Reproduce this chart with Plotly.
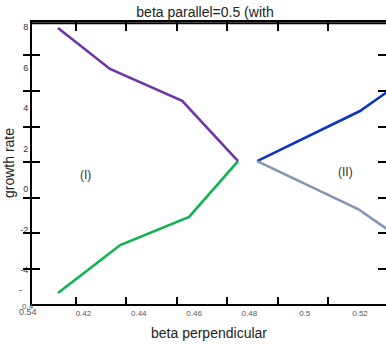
import plotly.graph_objects as go

# data
purple_x = [0.4108, 0.4296, 0.4557, 0.4759]
purple_y = [7.95, 5.93, 4.35, 1.38]
green_x = [0.4108, 0.4333, 0.4582, 0.4759]
green_y = [-5.14, -2.77, -1.38, 1.38]
blue_x = [0.4828, 0.5200, 0.5300]
blue_y = [1.38, 3.85, 4.81]
gray_x = [0.4828, 0.5193, 0.5300]
gray_y = [1.38, -0.99, -2.00]

x_label_vals = [0.42, 0.44, 0.46, 0.48, 0.50, 0.52]
x_label_text = ["0.42", "0.44", "0.46", "0.48", "0.5", "0.52"]
y_label_vals = [8, 6, 4, 2, 0, -2, -4]
y_label_text = ["8", "6", "4", "2", "0", "-2", "-4"]
x_tick_vals = [0.42, 0.44, 0.46, 0.48, 0.50, 0.52]
y_tick_vals = [6, 4, 2, 0, -2, -4, -6]

W, H = 386, 345
L, R, T, B = 32, 0, 22, 41

fig = go.Figure()
def line(x, y, c):
    fig.add_trace(go.Scatter(x=x, y=y, mode="lines", line=dict(color=c, width=2.6),
                             showlegend=False, hoverinfo="skip", cliponaxis=True))
line(purple_x, purple_y, "#6f35a6")
line(green_x, green_y, "#0fb351")
line(blue_x, blue_y, "#0a34c8")
line(gray_x, gray_y, "#8497b2")
# traces (outside view) that hold the tick-only axes
fig.add_trace(go.Scatter(x=[0.0], y=[100.0], xaxis="x2", yaxis="y2", mode="markers",
                         showlegend=False, hoverinfo="skip", marker=dict(opacity=0)))
fig.add_trace(go.Scatter(x=[0.0], y=[100.0], xaxis="x3", yaxis="y2", mode="markers",
                         showlegend=False, hoverinfo="skip", marker=dict(opacity=0)))

font = "Liberation Sans, Arial, sans-serif"
fig.update_layout(
    width=W, height=H, margin=dict(l=L, r=R, t=T, b=B),
    paper_bgcolor="white", plot_bgcolor="rgba(0,0,0,0)",
    font=dict(family=font, color="#222"),
    title=dict(text="beta parallel=0.5 (with", x=(205 - L) / (W - L), xref="paper",
               xanchor="center", y=1 - 12 / H, yref="container", yanchor="middle",
               font=dict(size=14, color="#222", family=font)),
    xaxis=dict(range=[0.4014, 0.5294], showgrid=False, zeroline=False, automargin=False,
               showline=True, linecolor="black", linewidth=2, mirror=True,
               ticks="", tickvals=x_label_vals, ticktext=x_label_text,
               tickfont=dict(size=8, color="#555"),
               title=dict(text="beta perpendicular", font=dict(size=14, color="#222"), standoff=12)),
    yaxis=dict(range=[-5.68, 8.247], showgrid=False, zeroline=False, automargin=False,
               showline=True, linecolor="black", linewidth=2, mirror=False,
               ticks="", tickvals=y_label_vals, ticktext=y_label_text,
               tickfont=dict(size=9, color="#333"),
               title=dict(text="growth rate", font=dict(size=14, color="#222"), standoff=2)),
    xaxis2=dict(anchor="y2", side="bottom", domain=[0, 1], range=[0.4025, 0.5430],
                showgrid=False, zeroline=False, showline=False,
                showticklabels=False, automargin=False,
                ticks="inside", ticklen=7, tickwidth=2, tickcolor="black", mirror="allticks",
                tickvals=x_tick_vals),
    xaxis3=dict(anchor="free", position=0.996, side="top", domain=[0, 1],
                range=[0.4025, 0.5430], overlaying="x2",
                showgrid=False, zeroline=False, showline=False,
                showticklabels=False, automargin=False,
                ticks="inside", ticklen=7, tickwidth=2, tickcolor="black",
                tickvals=x_tick_vals),
    yaxis2=dict(anchor="x2", side="left", domain=[0, 1], range=[-8.0, 7.887],
                showgrid=False, zeroline=False, showline=False, showticklabels=False,
                automargin=False,
                ticks="inside", ticklen=8, tickwidth=2, tickcolor="black", mirror="allticks",
                tickvals=y_tick_vals),
    # top frame edge
    shapes=[dict(type="line", xref="paper", yref="paper", x0=0, x1=1, y0=0.996, y1=0.996,
                 line=dict(color="black", width=2), layer="above")],
)

fig.add_annotation(text="0.4", x=0, y=0, xref="paper", yref="paper", xanchor="center",
                   xshift=-4, yshift=-9, showarrow=False, font=dict(size=8, color="#555"))
fig.add_annotation(text="0.54", x=0, y=0, xref="paper", yref="paper", xanchor="center",
                   xshift=-4, yshift=-15, showarrow=False, font=dict(size=9, color="#555"))
fig.add_annotation(text="-", x=0, y=0, xref="paper", yref="paper", xanchor="center",
                   xshift=-12, yshift=7, showarrow=False, font=dict(size=9, color="#333"))
fig.add_annotation(text="(I)", x=0.4206, y=0.69, xref="x", yref="y", showarrow=False,
                   font=dict(size=12, color="#333"))
fig.add_annotation(text="(II)", x=0.5146, y=0.84, xref="x", yref="y", showarrow=False,
                   font=dict(size=12, color="#333"))

fig.write_html("out.html", config={"displayModeBar": False},
               post_script="document.body.style.margin='0';document.body.style.overflow='hidden';")
